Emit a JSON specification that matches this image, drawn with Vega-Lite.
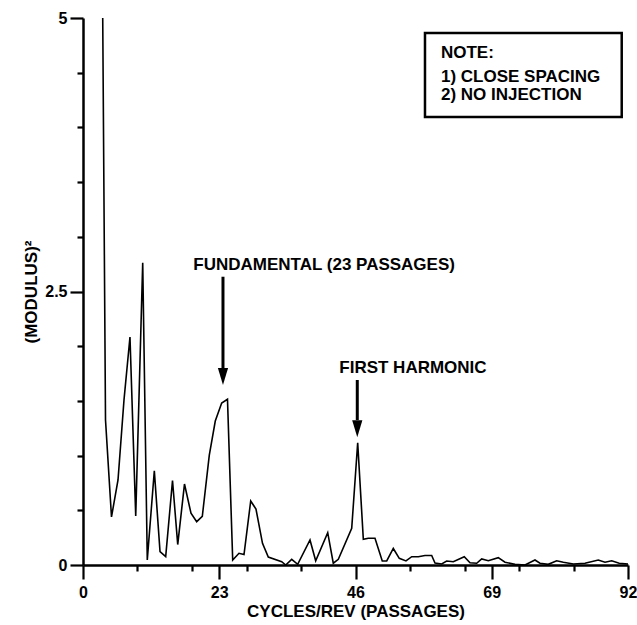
{
  "$schema": "https://vega.github.io/schema/vega-lite/v6.json",
  "width": 545,
  "height": 547,
  "autosize": {"type": "none"},
  "padding": {"left": 83, "top": 18, "right": 9, "bottom": 60},
  "background": "white",
  "config": {
    "view": {"stroke": null},
    "font": "Liberation Sans",
    "axis": {
      "grid": false,
      "ticks": true,
      "domainColor": "black",
      "tickColor": "black",
      "labelColor": "black",
      "titleColor": "black",
      "labelFont": "Liberation Sans",
      "titleFont": "Liberation Sans",
      "labelFontWeight": "bold",
      "titleFontWeight": "bold",
      "labelFontSize": 16,
      "titleFontSize": 17,
      "domainWidth": 2.5,
      "tickWidth": 2.2
    }
  },
  "datasets": {
    "spectrum": [
      {"cycles": 3.33, "modulus2": 5.0},
      {"cycles": 3.80, "modulus2": 1.325},
      {"cycles": 4.81, "modulus2": 0.439},
      {"cycles": 5.91, "modulus2": 0.777},
      {"cycles": 6.92, "modulus2": 1.508},
      {"cycles": 7.93, "modulus2": 2.084},
      {"cycles": 8.90, "modulus2": 0.448},
      {"cycles": 10.08, "modulus2": 2.763},
      {"cycles": 10.85, "modulus2": 0.046},
      {"cycles": 12.04, "modulus2": 0.862},
      {"cycles": 13.00, "modulus2": 0.122},
      {"cycles": 13.96, "modulus2": 0.076},
      {"cycles": 15.11, "modulus2": 0.772},
      {"cycles": 15.99, "modulus2": 0.187},
      {"cycles": 17.13, "modulus2": 0.740},
      {"cycles": 18.23, "modulus2": 0.473},
      {"cycles": 19.19, "modulus2": 0.396},
      {"cycles": 20.14, "modulus2": 0.445},
      {"cycles": 21.32, "modulus2": 1.005},
      {"cycles": 22.33, "modulus2": 1.316},
      {"cycles": 23.41, "modulus2": 1.481},
      {"cycles": 24.39, "modulus2": 1.515},
      {"cycles": 25.27, "modulus2": 0.046},
      {"cycles": 26.33, "modulus2": 0.107},
      {"cycles": 27.18, "modulus2": 0.096},
      {"cycles": 28.31, "modulus2": 0.585},
      {"cycles": 29.20, "modulus2": 0.512},
      {"cycles": 30.30, "modulus2": 0.198},
      {"cycles": 31.28, "modulus2": 0.073},
      {"cycles": 33.54, "modulus2": 0.030},
      {"cycles": 34.22, "modulus2": 0.0},
      {"cycles": 35.23, "modulus2": 0.052},
      {"cycles": 36.24, "modulus2": 0.006},
      {"cycles": 38.32, "modulus2": 0.229},
      {"cycles": 39.28, "modulus2": 0.039},
      {"cycles": 41.31, "modulus2": 0.295},
      {"cycles": 42.25, "modulus2": 0.016},
      {"cycles": 43.10, "modulus2": 0.052},
      {"cycles": 45.36, "modulus2": 0.335},
      {"cycles": 46.37, "modulus2": 1.118},
      {"cycles": 47.32, "modulus2": 0.235},
      {"cycles": 48.16, "modulus2": 0.245},
      {"cycles": 49.29, "modulus2": 0.245},
      {"cycles": 50.52, "modulus2": 0.037},
      {"cycles": 51.27, "modulus2": 0.037},
      {"cycles": 52.38, "modulus2": 0.151},
      {"cycles": 53.39, "modulus2": 0.061},
      {"cycles": 54.52, "modulus2": 0.037},
      {"cycles": 55.49, "modulus2": 0.076},
      {"cycles": 56.60, "modulus2": 0.076},
      {"cycles": 57.73, "modulus2": 0.087},
      {"cycles": 58.86, "modulus2": 0.087},
      {"cycles": 59.42, "modulus2": 0.018},
      {"cycles": 60.55, "modulus2": 0.009},
      {"cycles": 61.39, "modulus2": 0.037},
      {"cycles": 62.51, "modulus2": 0.030},
      {"cycles": 64.36, "modulus2": 0.076},
      {"cycles": 65.33, "modulus2": 0.021},
      {"cycles": 66.46, "modulus2": 0.016},
      {"cycles": 67.30, "modulus2": 0.055},
      {"cycles": 68.42, "modulus2": 0.039},
      {"cycles": 70.10, "modulus2": 0.067},
      {"cycles": 71.24, "modulus2": 0.025},
      {"cycles": 72.92, "modulus2": 0.006},
      {"cycles": 74.61, "modulus2": 0.0},
      {"cycles": 76.30, "modulus2": 0.046},
      {"cycles": 77.14, "modulus2": 0.016},
      {"cycles": 78.54, "modulus2": 0.006},
      {"cycles": 79.96, "modulus2": 0.039},
      {"cycles": 81.08, "modulus2": 0.025},
      {"cycles": 82.77, "modulus2": 0.009},
      {"cycles": 84.74, "modulus2": 0.016},
      {"cycles": 86.98, "modulus2": 0.046},
      {"cycles": 88.12, "modulus2": 0.025},
      {"cycles": 89.25, "modulus2": 0.039},
      {"cycles": 90.51, "modulus2": 0.016},
      {"cycles": 92.0, "modulus2": 0.009}
    ],
    "arrows": [
      {"x": 23.63, "top": 2.635, "bottom": 1.80},
      {"x": 46.30, "top": 1.691, "bottom": 1.325}
    ],
    "heads": [
      {"x": 23.63, "y": 1.723},
      {"x": 46.30, "y": 1.246}
    ],
    "box": [
      {"x1": 57.73, "x2": 90.94, "y1": 4.863, "y2": 4.095}
    ],
    "notes": [
      {"x": 60.43, "y": 4.680, "label": "NOTE:"},
      {"x": 60.43, "y": 4.461, "label": "1)  CLOSE SPACING"},
      {"x": 60.43, "y": 4.296, "label": "2)  NO INJECTION"},
      {"x": 18.62, "y": 2.742, "label": "FUNDAMENTAL (23 PASSAGES)"},
      {"x": 43.26, "y": 1.803, "label": "FIRST HARMONIC"}
    ]
  },
  "layer": [
    {
      "data": {"name": "spectrum"},
      "mark": {"type": "line", "color": "black", "strokeWidth": 1.6},
      "encoding": {
        "x": {
          "field": "cycles", "type": "quantitative",
          "scale": {"domain": [0, 92], "nice": false, "zero": false},
          "axis": {
            "orient": "bottom",
            "values": [0, 9.2, 18.4, 23, 27.6, 36.8, 46, 55.2, 64.4, 69, 73.6, 82.8, 92],
            "tickSize": {"condition": {"test": "datum.value % 23 === 0", "value": 14}, "value": 6},
            "labelExpr": "datum.value % 23 === 0 ? format(datum.value, 'd') : ''",
            "labelPadding": 5,
            "labelFlush": false,
            "labelOverlap": false,
            "title": "CYCLES/REV (PASSAGES)",
            "titlePadding": 3
          }
        },
        "y": {
          "field": "modulus2", "type": "quantitative",
          "scale": {"domain": [0, 5], "nice": false},
          "axis": {
            "orient": "left",
            "values": [0, 0.5, 1, 1.5, 2, 2.5, 3, 3.5, 4, 4.5, 5],
            "tickSize": {"condition": {"test": "datum.value % 2.5 === 0", "value": 13}, "value": 6},
            "labelExpr": "datum.value % 2.5 === 0 ? format(datum.value, '~g') : ''",
            "labelPadding": 3,
            "labelOverlap": false,
            "title": "(MODULUS)²",
            "titlePadding": 4
          }
        }
      }
    },
    {
      "data": {"name": "arrows"},
      "mark": {"type": "rule", "color": "black", "strokeWidth": 3},
      "encoding": {
        "x": {"field": "x", "type": "quantitative", "axis": null},
        "y": {"field": "top", "type": "quantitative", "axis": null},
        "y2": {"field": "bottom"}
      }
    },
    {
      "data": {"name": "heads"},
      "mark": {"type": "point", "shape": "M-0.6,-1L0.6,-1L0,1Z", "filled": true, "color": "black", "opacity": 1, "size": 289},
      "encoding": {
        "x": {"field": "x", "type": "quantitative", "axis": null},
        "y": {"field": "y", "type": "quantitative", "axis": null}
      }
    },
    {
      "data": {"name": "box"},
      "mark": {"type": "rect", "fill": "white", "stroke": "black", "strokeWidth": 2.5},
      "encoding": {
        "x": {"field": "x1", "type": "quantitative", "axis": null},
        "x2": {"field": "x2"},
        "y": {"field": "y1", "type": "quantitative", "axis": null},
        "y2": {"field": "y2"}
      }
    },
    {
      "data": {"name": "notes"},
      "mark": {"type": "text", "align": "left", "baseline": "middle", "font": "Liberation Sans", "fontWeight": "bold", "fontSize": 17, "color": "black"},
      "encoding": {
        "x": {"field": "x", "type": "quantitative", "axis": null},
        "y": {"field": "y", "type": "quantitative", "axis": null},
        "text": {"field": "label"}
      }
    }
  ],
  "resolve": {"axis": {"x": "independent", "y": "independent"}}
}
